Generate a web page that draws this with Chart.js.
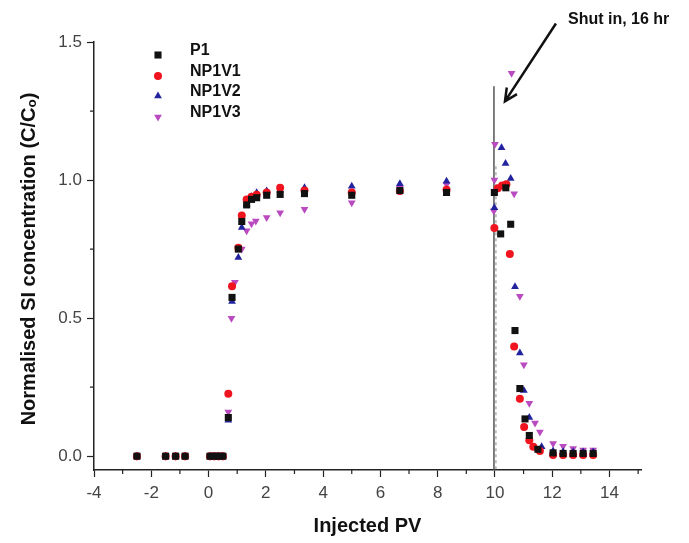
<!DOCTYPE html>
<html>
<head>
<meta charset="utf-8">
<script src="https://cdn.jsdelivr.net/npm/chart.js@4"></script>
<style>
  html, body { margin: 0; padding: 0; background: #fff; }
  #wrap { width: 689px; height: 543px; position: relative; }
</style>
</head>
<body>
<div id="wrap"><canvas id="myChart"></canvas></div>
<script>
// values
const p1X = [-2.5, -1.5, -1.15, -0.82, 0.05, 0.2, 0.35, 0.5, 0.69, 0.82, 1.04, 1.16, 1.33, 1.5, 1.68, 2.03, 2.5, 3.35, 5.0, 6.68, 8.31, 9.98, 10.2, 10.38, 10.55, 10.7, 10.87, 11.05, 11.2, 11.5, 12.03, 12.38, 12.73, 13.08, 13.43];
const p1Y = [0, 0, 0, 0, 0, 0, 0, 0, 0.14, 0.575, 0.75, 0.85, 0.91, 0.93, 0.936, 0.945, 0.948, 0.951, 0.945, 0.962, 0.955, 0.955, 0.805, 0.972, 0.84, 0.455, 0.245, 0.135, 0.075, 0.025, 0.012, 0.01, 0.01, 0.01, 0.01];

const v1X = [-2.5, -1.5, -1.15, -0.82, 0.05, 0.2, 0.35, 0.5, 0.69, 0.82, 1.04, 1.16, 1.33, 1.5, 1.68, 2.03, 2.5, 3.35, 5.0, 6.68, 8.31, 9.98, 10.1, 10.25, 10.4, 10.52, 10.67, 10.87, 11.02, 11.2, 11.34, 11.57, 12.03, 12.38, 12.73, 13.08, 13.43];
const v1Y = [0, 0, 0, 0, 0, 0, 0, 0, 0.226, 0.615, 0.755, 0.872, 0.93, 0.94, 0.947, 0.955, 0.972, 0.962, 0.955, 0.96, 0.965, 0.826, 0.97, 0.98, 0.985, 0.732, 0.397, 0.208, 0.106, 0.058, 0.034, 0.019, 0.004, 0.004, 0.004, 0.004, 0.004];

const v2X = [-2.5, -1.5, -1.15, -0.82, 0.05, 0.2, 0.35, 0.5, 0.69, 0.82, 1.04, 1.16, 1.33, 1.5, 1.68, 2.03, 2.5, 3.35, 5.0, 6.68, 8.31, 9.98, 10.23, 10.37, 10.55, 10.7, 10.87, 11.01, 11.2, 11.63, 12.03, 12.38, 12.73, 13.08, 13.43];
const v2Y = [0, 0, 0, 0, 0, 0, 0, 0, 0.13, 0.56, 0.72, 0.828, 0.912, 0.94, 0.954, 0.96, 0.963, 0.972, 0.978, 0.987, 0.996, 0.90, 1.117, 1.06, 1.006, 0.614, 0.374, 0.238, 0.14, 0.034, 0.019, 0.016, 0.015, 0.015, 0.015];

const v3X = [-2.5, -1.5, -1.15, -0.82, 0.05, 0.2, 0.35, 0.5, 0.69, 0.8, 0.92, 1.16, 1.33, 1.5, 1.65, 2.03, 2.5, 3.35, 5.0, 6.68, 8.31, 9.96, 9.98, 10.0, 10.58, 10.67, 10.87, 11.01, 11.2, 11.4, 11.57, 12.03, 12.38, 12.73, 13.08, 13.43];
const v3Y = [0, 0, 0, 0, 0, 0, 0, 0, 0.16, 0.50, 0.63, 0.75, 0.816, 0.842, 0.852, 0.864, 0.882, 0.894, 0.918, 0.97, 0.984, 0.888, 1.0, 1.13, 1.387, 0.95, 0.579, 0.331, 0.192, 0.12, 0.088, 0.046, 0.036, 0.028, 0.022, 0.022];

const xTicks = [-4, -2, 0, 2, 4, 6, 8, 10, 12, 14];
const xMinorTicks = [-3, -1, 1, 3, 5, 7, 9, 11, 13, 15];
const yTicks = [0, 0.5, 1.0, 1.5];
const yMinorTicks = [0.25, 0.75, 1.25];
const shutInPV = 10;

function pts(xs, ys) {
  return xs.map((x, i) => ({ x: x, y: ys[i] }));
}

const ctx = document.getElementById('myChart').getContext('2d');

const datasets = [
  { label: 'P1', data: pts(p1X, p1Y), pointStyle: 'rect', pointRadius: 5, backgroundColor: '#111111', borderColor: '#111111' },
  { label: 'NP1V1', data: pts(v1X, v1Y), pointStyle: 'circle', pointRadius: 4, backgroundColor: '#f0141e', borderColor: '#f0141e' },
  { label: 'NP1V2', data: pts(v2X, v2Y), pointStyle: 'triangle', pointRadius: 4.5, backgroundColor: '#2323a0', borderColor: '#2323a0' },
  { label: 'NP1V3', data: pts(v3X, v3Y), pointStyle: 'triangle', pointRotation: 180, pointRadius: 4.5, backgroundColor: '#b94abf', borderColor: '#b94abf' }
];
datasets.forEach(d => { d.showLine = false; d.borderWidth = 0; d.pointHoverRadius = d.pointRadius; });

const decor = {
  id: 'decor',
  beforeDatasetsDraw(chart) {
    const c = chart.ctx, xs = chart.scales.x, ys = chart.scales.y;
    const px = xs.getPixelForValue(shutInPV);
    c.save();
    // shut-in marker lines
    c.strokeStyle = '#555';
    c.lineWidth = 1.5;
    c.beginPath();
    c.moveTo(px - 1, ys.getPixelForValue(1.34));
    c.lineTo(px - 1, ys.bottom);
    c.stroke();
    c.strokeStyle = '#888';
    c.lineWidth = 1;
    c.setLineDash([3, 3]);
    c.beginPath();
    c.moveTo(px + 1, ys.getPixelForValue(1.05));
    c.lineTo(px + 1, ys.bottom);
    c.stroke();
    c.restore();
  },
  afterDraw(chart) {
    const c = chart.ctx, xs = chart.scales.x, ys = chart.scales.y;
    c.save();
    // minor ticks
    c.strokeStyle = '#222';
    c.lineWidth = 1.2;
    c.beginPath();
    xMinorTicks.forEach(v => {
      const p = xs.getPixelForValue(v);
      c.moveTo(p, ys.bottom);
      c.lineTo(p, ys.bottom + 4);
    });
    yMinorTicks.forEach(v => {
      const p = ys.getPixelForValue(v);
      c.moveTo(xs.left, p);
      c.lineTo(xs.left - 4, p);
    });
    c.stroke();

    // axis titles
    c.fillStyle = '#111';
    c.font = 'bold 20px "Liberation Sans", Arial, sans-serif';
    c.textAlign = 'center';
    c.textBaseline = 'middle';
    c.fillText('Injected PV', (xs.left + xs.right) / 2, 526);
    c.save();
    c.translate(29, 259);
    c.rotate(-Math.PI / 2);
    c.fillText('Normalised SI concentration (C/C\u2092)', 0, 0);
    c.restore();

    // legend
    c.font = 'bold 16px "Liberation Sans", Arial, sans-serif';
    c.textAlign = 'left';
    const rows = [55, 76, 96, 117];
    chart.data.datasets.forEach((d, i) => {
      c.fillStyle = d.backgroundColor;
      Chart.helpers.drawPoint(c, { pointStyle: d.pointStyle, rotation: d.pointRotation || 0, radius: d.pointRadius, borderWidth: 0 }, 158, rows[i]);
      c.fillStyle = '#111';
      c.fillText(d.label, 190, rows[i] - 4);
    });

    // shut-in annotation
    c.font = 'bold 16px "Liberation Sans", Arial, sans-serif';
    c.fillText('Shut in, 16 hr', 568, 20);
    const tx = xs.getPixelForValue(10.35), ty = ys.getPixelForValue(1.285);
    const sx = xs.getPixelForValue(12.13), sy = ys.getPixelForValue(1.567);
    c.strokeStyle = '#111';
    c.lineWidth = 2.5;
    c.beginPath();
    c.moveTo(sx, sy);
    c.lineTo(tx, ty);
    const ang = Math.atan2(ty - sy, tx - sx);
    const hl = 14;
    c.moveTo(tx - hl * Math.cos(ang - 0.45), ty - hl * Math.sin(ang - 0.45));
    c.lineTo(tx, ty);
    c.lineTo(tx - hl * Math.cos(ang + 0.45), ty - hl * Math.sin(ang + 0.45));
    c.stroke();
    c.restore();
  }
};

const config = {
  type: 'scatter',
  data: { datasets: datasets },
  options: {
    responsive: true,
    maintainAspectRatio: false,
    animation: false,
    layout: { padding: { left: 0, top: 42, right: 48, bottom: 0 } },
    plugins: { legend: { display: false }, tooltip: { enabled: false } },
    scales: {
      x: {
        type: 'linear',
        min: -4,
        max: 15.1,
        afterBuildTicks: s => { s.ticks = xTicks.map(v => ({ value: v })); },
        afterFit: s => { s.height = 73; },
        grid: { drawOnChartArea: false, tickLength: 7, tickColor: '#222', tickWidth: 1.2 },
        border: { color: '#222', width: 1.5 },
        ticks: { color: '#444', font: { family: '"Liberation Sans", Arial, sans-serif', size: 17 }, padding: 6, maxRotation: 0 }
      },
      y: {
        type: 'linear',
        min: -0.05,
        max: 1.5,
        afterBuildTicks: s => { s.ticks = yTicks.map(v => ({ value: v })); },
        afterFit: s => { s.width = 94; },
        grid: { drawOnChartArea: false, tickLength: 7, tickColor: '#222', tickWidth: 1.2 },
        border: { color: '#222', width: 1.5 },
        ticks: { color: '#444', font: { family: '"Liberation Sans", Arial, sans-serif', size: 17 }, padding: 5, callback: v => v.toFixed(1) }
      }
    }
  },
  plugins: [decor]
};

const myChart = new Chart(ctx, config);
</script>
</body>
</html>
